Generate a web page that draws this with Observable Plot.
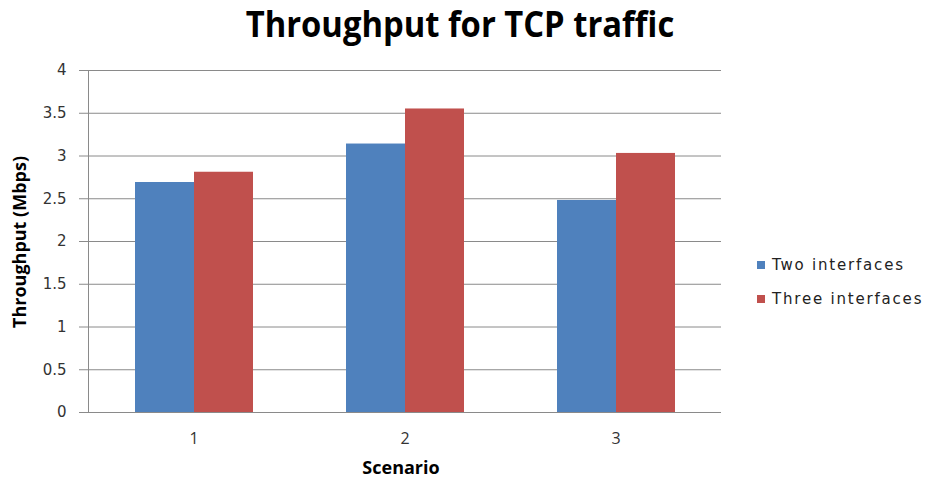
<!DOCTYPE html>
<html>
<head>
<meta charset="utf-8">
<script src="https://cdn.jsdelivr.net/npm/d3@7"></script>
<script src="https://cdn.jsdelivr.net/npm/@observablehq/plot@0.6"></script>
<style>
  html, body { margin: 0; padding: 0; background: #fff; }
  #wrap { position: relative; width: 926px; height: 484px; overflow: hidden; }
  #title { position: absolute; left: -3px; top: 4px; width: 926px; text-align: center;
    font-family: "Open Sans", sans-serif; font-weight: bold; font-size: 36px; color: #000; line-height: 40px;
    transform: scaleX(0.91); transform-origin: 463px 0; }
  #chart { position: absolute; left: 0; top: 50px; }
  .axt { position: absolute; font-family: "Open Sans", sans-serif; font-weight: bold; font-size: 18px; color: #000; white-space: nowrap; }
  #ytitle { left: 19px; top: 242px; transform: translate(-50%, -50%) rotate(-90deg); }
  #xtitle { left: 401px; top: 467px; transform: translate(-50%, -50%); }
  #legend { position: absolute; left: 757px; top: 248px; font-family: "DejaVu Sans", sans-serif; font-size: 15px; letter-spacing: 1.8px; color: #222; }
  .li { display: flex; align-items: center; height: 34px; }
  .sw { width: 8px; height: 8px; margin-right: 7px; }
</style>
</head>
<body>
<div id="wrap">
  <div id="title"></div>
  <div id="chart"></div>
  <div id="ytitle" class="axt"></div>
  <div id="xtitle" class="axt"></div>
  <div id="legend"></div>
</div>
<script>
const titleText = "Throughput for TCP traffic";
const yLabel = "Throughput (Mbps)";
const xLabel = "Scenario";
const scenarios = ["1", "2", "3"];
const series = ["Two interfaces", "Three interfaces"];
const twoInterfaces = [2.69, 3.14, 2.48];
const threeInterfaces = [2.81, 3.55, 3.03];
const yTicks = [0, 0.5, 1, 1.5, 2, 2.5, 3, 3.5, 4];
const colors = ["#4F81BD", "#C0504D"];

const data = scenarios.flatMap((s, i) => [
  {scenario: s, series: series[0], value: twoInterfaces[i]},
  {scenario: s, series: series[1], value: threeInterfaces[i]}
]);

document.getElementById("title").textContent = titleText;
document.getElementById("ytitle").textContent = yLabel;
document.getElementById("xtitle").textContent = xLabel;

const legend = document.getElementById("legend");
series.forEach((s, i) => {
  const row = document.createElement("div");
  row.className = "li";
  const sw = document.createElement("div");
  sw.className = "sw";
  sw.style.background = colors[i];
  const t = document.createElement("span");
  t.textContent = s;
  row.append(sw, t);
  legend.append(row);
});

const gridColor = "#8a8a8a";

const chart = Plot.plot({
  width: 926,
  height: 434,
  marginLeft: 87,
  marginRight: 205,
  marginTop: 20,
  marginBottom: 72,
  style: {fontFamily: "DejaVu Sans, sans-serif", background: "transparent"},
  fx: {domain: scenarios, padding: 0, label: null, axis: null},
  x: {domain: series, paddingInner: 0, paddingOuter: 0.76, axis: null},
  y: {domain: [0, 4], label: null},
  color: {domain: series, range: colors},
  marks: [
    Plot.ruleY(yTicks.slice(1), {stroke: gridColor, strokeWidth: 1}),
    Plot.barY(data, {fx: "scenario", x: "series", y: "value", fill: "series"}),
    Plot.ruleY([0], {stroke: gridColor, strokeWidth: 1}),
    Plot.frame({anchor: "left", facetAnchor: "left", stroke: gridColor, strokeOpacity: 1}),
    Plot.axisY({ticks: yTicks, tickFormat: d => String(d), tickSize: 9, tickPadding: 13,
      stroke: gridColor, fontSize: 15, fill: "#333", label: null}),
    Plot.axisFx({anchor: "bottom", tickSize: 0, tickPadding: 20, fontSize: 16,
      fontFamily: "Open Sans, sans-serif", fill: "#333", label: null})
  ]
});
document.getElementById("chart").append(chart);
</script>
</body>
</html>
